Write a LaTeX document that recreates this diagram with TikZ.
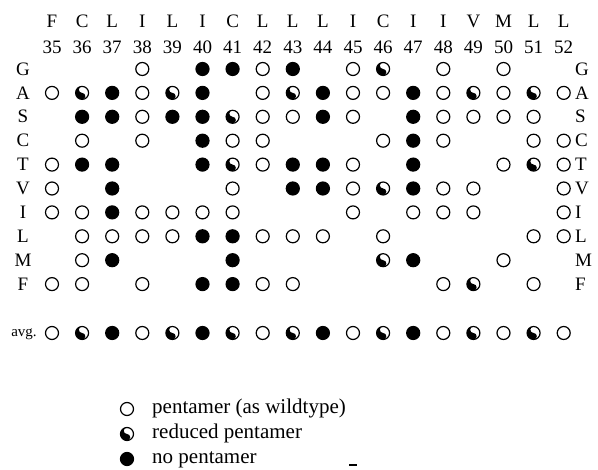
\documentclass[tikz,border=0pt]{standalone}
\usepackage{fontspec}
\setmainfont{Liberation Serif}

\begin{document}
\begin{tikzpicture}[x=1pt,y=-1pt,
  mk/.style={circle,minimum size=13pt,inner sep=0pt,line width=1.2pt},
  mko/.style={mk,draw},
  mkf/.style={mk,draw,fill},
  mkh/.style={mk,draw,path picture={
    \fill[shift={(path picture bounding box.center)},rotate=-35]
      (0pt,6.5pt) arc[start angle=90,end angle=270,radius=6.5pt]
      arc[start angle=-90,end angle=90,radius=3.25pt]
      arc[start angle=-90,end angle=-270,radius=3.25pt] -- cycle;}},
  lbl/.style={font=\fontsize{19}{21}\selectfont,inner sep=0pt},
  key/.style={font=\fontsize{21}{24}\selectfont,inner sep=0pt,anchor=base west}]
  \useasboundingbox (0,0) rectangle (598,470);
  % residues and positions
  \foreach \aa [count=\c from 0] in {F,C,L,I,L,I,C,L,L,L,I,C,I,I,V,M,L,L} {
    \pgfmathtruncatemacro\pos{35+\c}
    \node[lbl] (head-\c) at (52+30.1*\c,21) {\aa};
    \node[lbl] (num-\c) at (52+30.1*\c,47) {\pos};
  }
  % substitutions
  \foreach \r/\marks [count=\i from 0] in {
    G/{x,x,x,o,x,f,f,o,f,x,o,h,x,o,x,o,x,x},
    A/{o,h,f,o,h,f,x,o,h,f,o,o,f,o,h,o,h,o},
    S/{x,f,f,o,f,f,h,o,o,f,o,x,f,o,o,o,o,x},
    C/{x,o,x,o,x,f,o,o,x,x,x,o,f,o,x,x,o,o},
    T/{o,f,f,x,x,f,h,o,f,f,o,x,f,x,x,o,h,o},
    V/{o,x,f,x,x,x,o,x,f,f,o,h,f,o,o,x,x,o},
    I/{o,o,f,o,o,o,o,x,x,x,o,x,o,o,o,x,x,o},
    L/{x,o,o,o,o,f,f,o,o,o,x,o,x,x,x,x,o,o},
    M/{x,o,f,x,x,x,f,x,x,x,x,h,f,x,x,o,x,x},
    F/{o,o,x,o,x,f,f,o,o,x,x,x,x,o,h,x,o,x}} {
    \node[lbl] (left-\r) at (23,69+23.9*\i) {\r};
    \node[lbl,anchor=west] (right-\r) at (575,69+23.9*\i) {\r};
    \foreach \m [count=\c from 0] in \marks {
      \if\m x\else\node[mk\m] (\r-\c) at (52+30.1*\c,69+23.9*\i) {};\fi
    }
  }
  % average
  \node[lbl,font=\fontsize{15}{17}\selectfont,anchor=base] (left-avg) at (24,337) {avg.};
  \foreach \m [count=\c from 0] in {o,h,f,o,h,f,h,o,h,f,o,h,f,o,h,o,h,o}
    \node[mk\m] (avg-\c) at (52+30.1*\c,333) {};
  % legend
  \node[mko] (key-o) at (127,409) {};
  \node[mkh] (key-h) at (127,434) {};
  \node[mkf] (key-f) at (127,459) {};
  \node[key] (txt-o) at (152,414) {pentamer (as wildtype)};
  \node[key] (txt-h) at (152,439) {reduced pentamer};
  \node[key] (txt-f) at (152,464) {no pentamer};
  \draw[line width=1.5pt] (349,465) -- (357,465);
\end{tikzpicture}
\end{document}
